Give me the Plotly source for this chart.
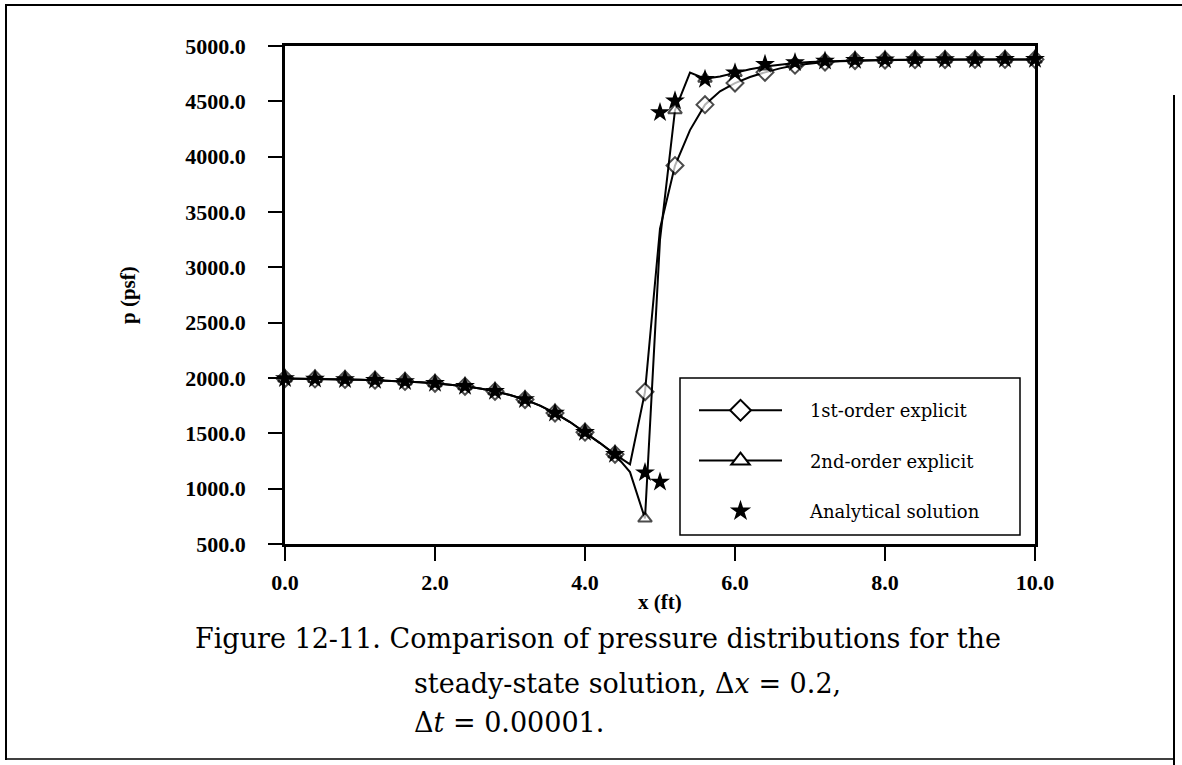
import plotly.graph_objects as go

# ---------------- data ----------------
x_grid = [0.0, 0.2, 0.4, 0.6, 0.8, 1.0, 1.2, 1.4, 1.6, 1.8, 2.0, 2.2, 2.4, 2.6, 2.8,
          3.0, 3.2, 3.4, 3.6, 3.8, 4.0, 4.2, 4.4, 4.6, 4.8, 5.0, 5.2, 5.4, 5.6, 5.8,
          6.0, 6.2, 6.4, 6.6, 6.8, 7.0, 7.2, 7.4, 7.6, 7.8, 8.0, 8.2, 8.4, 8.6, 8.8,
          9.0, 9.2, 9.4, 9.6, 9.8, 10.0]

p_first_order = [1995, 1994, 1992, 1990, 1987, 1984, 1980, 1975, 1969, 1961, 1952, 1940, 1925, 1905, 1880,
                 1847, 1805, 1750, 1683, 1602, 1510, 1412, 1310, 1220, 1875, 3350, 3920, 4240, 4470, 4590,
                 4665, 4720, 4762, 4798, 4826, 4843, 4855, 4863, 4868, 4871, 4873, 4875, 4876, 4877, 4877,
                 4878, 4878, 4878, 4879, 4879, 4879]

p_second_order = [1995, 1994, 1992, 1990, 1987, 1984, 1980, 1975, 1969, 1961, 1952, 1940, 1925, 1905, 1880,
                  1847, 1805, 1750, 1683, 1602, 1510, 1412, 1310, 1150, 730, 3250, 4420, 4760, 4705, 4725,
                  4757, 4790, 4815, 4833, 4846, 4855, 4862, 4867, 4870, 4872, 4874, 4875, 4876, 4877, 4877,
                  4878, 4878, 4878, 4879, 4879, 4879]

x_analytic = [0.0, 0.4, 0.8, 1.2, 1.6, 2.0, 2.4, 2.8, 3.2, 3.6, 4.0, 4.4, 4.8, 5.0, 5.0, 5.2,
              5.6, 6.0, 6.4, 6.8, 7.2, 7.6, 8.0, 8.4, 8.8, 9.2, 9.6, 10.0]
p_analytic = [1995, 1992, 1987, 1980, 1969, 1952, 1925, 1880, 1805, 1683, 1510, 1310, 1145, 1060, 4400, 4505,
              4700, 4758, 4835, 4850, 4865, 4872, 4875, 4877, 4878, 4879, 4880, 4880]

x_ticks = [0, 2, 4, 6, 8, 10]
y_ticks = [500, 1000, 1500, 2000, 2500, 3000, 3500, 4000, 4500, 5000]

series_names = ["1st-order explicit", "2nd-order explicit", "Analytical solution"]
caption_lines = ["Figure 12-11. Comparison of pressure distributions for the",
                 "steady-state solution, Δ<i>x</i> = 0.2,",
                 "Δ<i>t</i> = 0.00001."]

# ---------------- layout geometry ----------------
W, H = 1182, 765
L, R, T, B = 285, 1035, 46, 544  # plot area in pixels


def px(xp):
    return (xp - L) / (R - L)


def py(yp):
    return (B - yp) / (B - T)


def marked(xs, step=0.4):
    return [abs(v / step - round(v / step)) < 1e-6 for v in xs]


FONT = "DejaVu Serif"
TFONT = "Liberation Serif"
mk = marked(x_grid)
LW = 2.0

fig = go.Figure()

fig.add_trace(go.Scatter(
    x=x_grid, y=p_first_order, mode="lines+markers", showlegend=False,
    line=dict(color="black", width=LW),
    marker=dict(symbol="diamond", size=[13 if m else 0 for m in mk], color="white",
                line=dict(color="black", width=[2 if m else 0 for m in mk])),
    cliponaxis=False))

fig.add_trace(go.Scatter(
    x=x_grid, y=p_second_order, mode="lines+markers", showlegend=False,
    line=dict(color="black", width=LW),
    marker=dict(symbol="triangle-up", size=[12 if m else 0 for m in mk], color="white",
                line=dict(color="black", width=[2 if m else 0 for m in mk])),
    cliponaxis=False))

fig.add_trace(go.Scatter(
    x=x_analytic, y=p_analytic, mode="markers", showlegend=False,
    marker=dict(symbol="star", size=15, color="black", line=dict(width=0)),
    cliponaxis=False))

# legend entries
leg_styles = [
    dict(mode="lines+markers", line=dict(color="black", width=LW),
         marker=dict(symbol="diamond", size=20, color="white", line=dict(color="black", width=2))),
    dict(mode="lines+markers", line=dict(color="black", width=LW),
         marker=dict(symbol="triangle-up", size=18, color="white", line=dict(color="black", width=2))),
    dict(mode="markers",
         marker=dict(symbol="star", size=18, color="black", line=dict(width=0))),
]
pad = "\u00a0" * 4
for i, (nm, st) in enumerate(zip(series_names, leg_styles)):
    fig.add_trace(go.Scatter(x=[None], y=[None], name=pad + nm, legendgroup="g%d" % i,
                             showlegend=True, **st))

axis_common = dict(showline=True, linewidth=2.5, linecolor="black", mirror=True,
                   ticks="outside", ticklen=14, tickwidth=2, tickcolor="black",
                   showgrid=False, zeroline=False,
                   tickfont=dict(family=TFONT, size=22, color="black", weight="bold"))

fig.update_xaxes(range=[0, 10], tickvals=x_ticks, ticktext=["%.1f" % v for v in x_ticks],
                 ticklabelstandoff=3, **axis_common)
fig.update_yaxes(range=[500, 5000], tickvals=y_ticks, ticktext=["%.1f" % v for v in y_ticks],
                 ticklabelstandoff=18, **axis_common)

annotations = [
    dict(text="p (psf)", x=px(128), y=py(295), textangle=-90),
    dict(text="x (ft)", x=px(660), y=py(602)),
]
annos = []
for a in annotations:
    annos.append(dict(xref="paper", yref="paper", showarrow=False, xanchor="center", yanchor="middle",
                      font=dict(family=TFONT, size=21, color="black", weight="bold"), **a))

cap_pos = [(193, 638), (412, 683), (412, 722)]
for txt, (cx, cy) in zip(caption_lines, cap_pos):
    annos.append(dict(xref="paper", yref="paper", showarrow=False, xanchor="left", yanchor="middle",
                      x=px(cx), y=py(cy), text=txt,
                      font=dict(family=FONT, size=27, color="black")))

shapes = [
    # legend box
    dict(type="rect", xref="paper", yref="paper", x0=px(680), x1=px(1020), y0=py(378), y1=py(535),
         line=dict(color="black", width=1.5), fillcolor="white", layer="below"),
    # outer frame
    dict(type="line", xref="paper", yref="paper", x0=px(6), x1=px(6), y0=py(4), y1=py(760),
         line=dict(color="black", width=2)),
    dict(type="line", xref="paper", yref="paper", x0=px(6), x1=px(1182), y0=py(5), y1=py(5),
         line=dict(color="black", width=2)),
    dict(type="line", xref="paper", yref="paper", x0=px(1174), x1=px(1174), y0=py(95), y1=py(765),
         line=dict(color="black", width=2)),
    dict(type="line", xref="paper", yref="paper", x0=px(6), x1=px(1174), y0=py(759), y1=py(759),
         line=dict(color="black", width=1.5)),
]

fig.update_layout(
    width=W, height=H,
    margin=dict(l=L, r=W - R, t=T, b=H - B, pad=0),
    paper_bgcolor="white", plot_bgcolor="white",
    font=dict(family=FONT, size=18, color="black"),
    legend=dict(x=px(694), y=py(392), xanchor="left", yanchor="top",
                bgcolor="rgba(0,0,0,0)", borderwidth=0, itemwidth=83,
                tracegroupgap=24, font=dict(family=FONT, size=18, color="black"),
                itemclick=False, itemdoubleclick=False),
    annotations=annos,
    shapes=shapes,
)

fig.write_html("out.html")
